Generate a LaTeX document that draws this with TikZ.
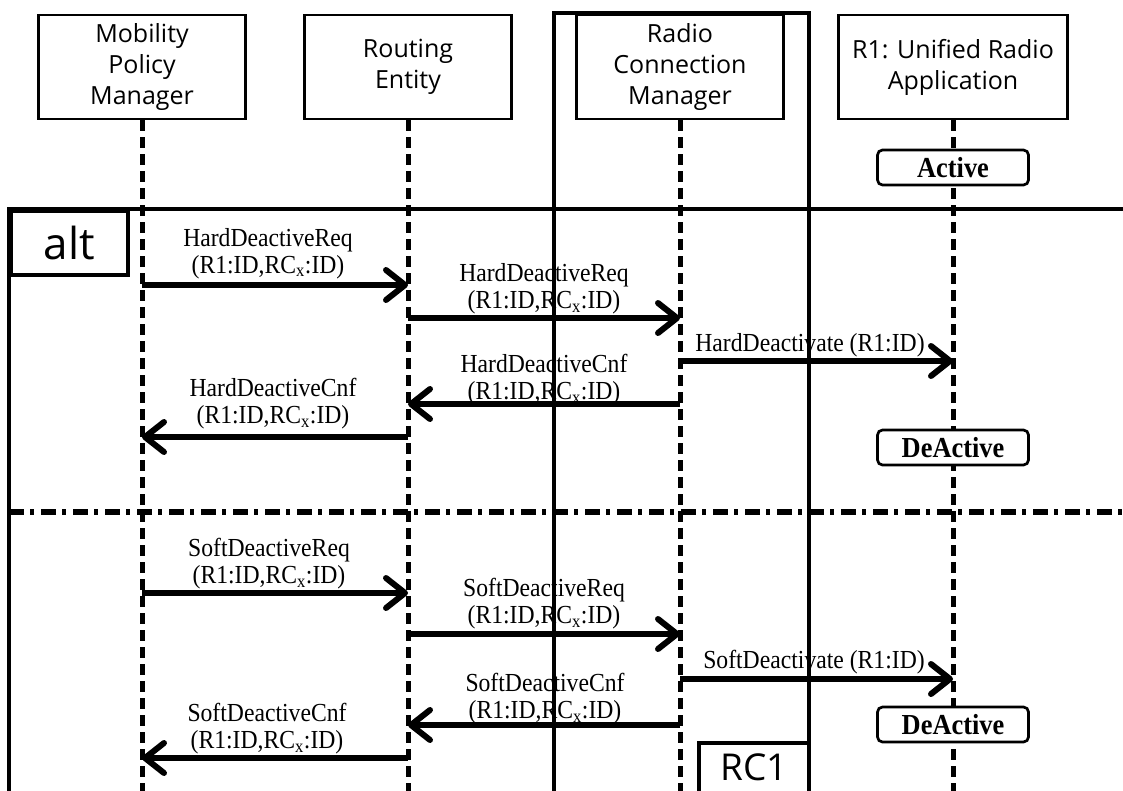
\documentclass[tikz,border=0pt]{standalone}
\usepackage{fontspec}
\setmainfont{Liberation Serif}
\newfontfamily\hdrfont{Open Sans}
\newfontfamily\lblfont[FakeStretch=0.91]{Liberation Serif}
\usetikzlibrary{arrows.meta}
\begin{document}
\begin{tikzpicture}[x=1pt,y=-1pt,
  hdr/.style={draw, line width=2.7pt, fill=white, minimum width=207pt, minimum height=104pt,
    align=center, inner sep=0pt, font=\hdrfont\fontsize{25}{31}\selectfont},
  life/.style={line width=5pt, dash pattern=on 11pt off 6pt},
  statebox/.style={draw, line width=2.7pt, rounded corners=5pt, fill=white, minimum width=151pt,
    minimum height=35pt, inner sep=0pt, font=\lblfont\bfseries\fontsize{29}{32}\selectfont},
  msg/.style={line width=6pt, -{Straight Barb[length=19pt,width=30pt,round]}},
  lbl/.style={font=\lblfont\fontsize{26}{27}\selectfont, align=center, inner sep=0pt},
  framel/.style={line width=4pt},
  sepline/.style={line width=5.5pt, dash pattern=on 15pt off 6pt on 4pt off 7pt},
  rcbox/.style={line width=3.8pt},
]
\useasboundingbox (0,0) rectangle (1123,791);
\coordinate (bot) at (0,791);
% headers
\node[hdr] (mpm) at (142,67) {Mobility\\Policy\\Manager};
\node[hdr] (re) at (408,67) {Routing\\Entity};
\node[hdr] (rcm) at (680,67) {Radio\\Connection\\Manager};
\node[hdr, minimum width=229pt] (r1) at (953,67) {R1: Unified Radio\\Application};
% lifelines
\draw[life] (mpm.south) -- (mpm.south |- bot);
\draw[life] (re.south) -- (re.south |- bot);
\draw[life] (rcm.south) -- (rcm.south |- bot);
\draw[life] (r1.south) -- (r1.south |- bot);
% alt frame
\coordinate (fTL) at (9,209);
\coordinate (fTR) at (1123,209);
\coordinate (fBL) at (9,791);
\draw[framel] (fTR) -- (fTL) -- (fBL);
\node[draw, line width=4pt, fill=white, anchor=north west, minimum width=117pt, minimum height=64pt,
  inner sep=0pt, font=\hdrfont\fontsize{44}{48}\selectfont] (alt) at (fTL) {alt};
\coordinate (sepL) at (9,512);
\coordinate (sepR) at (1123,512);
\draw[sepline] (sepL) -- (sepR);
% states
\node[statebox] (act) at (953,167.5) {Active};
\node[statebox] (deact1) at (953,447.5) {DeActive};
\node[statebox] (deact2) at (953,724.5) {DeActive};
% message rows
\coordinate (y1) at (0,285);
\coordinate (y2) at (0,318);
\coordinate (y3) at (0,361);
\coordinate (y4) at (0,404);
\coordinate (y5) at (0,437);
\coordinate (y6) at (0,593);
\coordinate (y7) at (0,634);
\coordinate (y8) at (0,679);
\coordinate (y9) at (0,725);
\coordinate (y10) at (0,758);
% labels
\node[lbl] (l1) at (268,253.5) {HardDeactiveReq\\(R1:ID,RC\textsubscript{x}:ID)};
\node[lbl] (l2) at (544,289) {HardDeactiveReq\\(R1:ID,RC\textsubscript{x}:ID)};
\node[lbl, anchor=base] (l3) at (810,351) {HardDeactivate (R1:ID)};
\node[lbl] (l4) at (544,379.5) {HardDeactiveCnf\\(R1:ID,RC\textsubscript{x}:ID)};
\node[lbl] (l5) at (273,404) {HardDeactiveCnf\\(R1:ID,RC\textsubscript{x}:ID)};
\node[lbl] (l6) at (269,563.5) {SoftDeactiveReq\\(R1:ID,RC\textsubscript{x}:ID)};
\node[lbl] (l7) at (544,604) {SoftDeactiveReq\\(R1:ID,RC\textsubscript{x}:ID)};
\node[lbl, anchor=base] (l8) at (814,668) {SoftDeactivate (R1:ID)};
\node[lbl] (l9) at (545,698.5) {SoftDeactiveCnf\\(R1:ID,RC\textsubscript{x}:ID)};
\node[lbl] (l10) at (267,729) {SoftDeactiveCnf\\(R1:ID,RC\textsubscript{x}:ID)};
% arrows
\draw[msg] (mpm |- y1) -- (re |- y1);
\draw[msg] (re |- y2) -- (rcm |- y2);
\draw[msg] (rcm |- y3) -- (r1 |- y3);
\draw[msg] (rcm |- y4) -- (re |- y4);
\draw[msg] (re |- y5) -- (mpm |- y5);
\draw[msg] (mpm |- y6) -- (re |- y6);
\draw[msg] (re |- y7) -- (rcm |- y7);
\draw[msg] (rcm |- y8) -- (r1 |- y8);
\draw[msg] (rcm |- y9) -- (re |- y9);
\draw[msg] (re |- y10) -- (mpm |- y10);
% RC1 container
\coordinate (rcBL) at (554,795);
\coordinate (rcTL) at (554,13);
\coordinate (rcTR) at (809,13);
\coordinate (rcBR) at (809,795);
\draw[rcbox] (rcBL) -- (rcTL) -- (rcTR) -- (rcBR);
\coordinate (rclA) at (809,743);
\coordinate (rclB) at (699,743);
\coordinate (rclC) at (699,795);
\draw[rcbox] (rclA) -- (rclB) -- (rclC);
\node[inner sep=0pt, font=\hdrfont\fontsize{37}{40}\selectfont] (rc1) at (754,767.5) {RC1};
\end{tikzpicture}
\end{document}
